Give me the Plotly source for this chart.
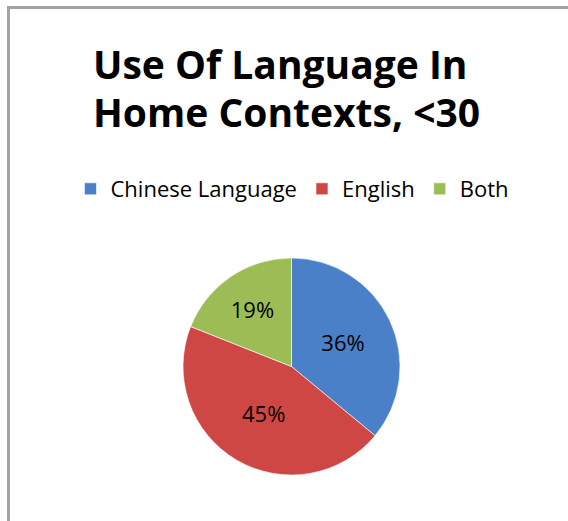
import plotly.graph_objects as go

# Language used at home, respondents under 30
categories = ["Chinese Language", "English", "Both"]
shares = [36, 45, 19]
colors = ["#4a80c8", "#cf4744", "#9cbd55"]
title_lines = ["Use Of Language In", "Home Contexts, <30"]

W, H = 568, 521

fig = go.Figure(
    go.Pie(
        labels=categories,
        values=shares,
        sort=False,
        direction="clockwise",
        rotation=0,
        textinfo="percent",
        textposition="inside",
        insidetextorientation="horizontal",
        textfont=dict(family="Open Sans", size=22, color="#000000"),
        marker=dict(colors=colors, line=dict(color="#ffffff", width=0.6)),
        domain=dict(x=[183 / W, 400 / W], y=[1 - 475 / H, 1 - 258 / H]),
        hoverinfo="label+percent",
    )
)

# title drawn as two left-aligned lines
title_annotations = [
    dict(
        text=line,
        x=91 / W,
        y=1 - yc / H,
        xref="paper",
        yref="paper",
        xanchor="left",
        yanchor="middle",
        showarrow=False,
        font=dict(family="Open Sans", size=39, color="#000000", weight="bold"),
    )
    for line, yc in zip(title_lines, [63, 112])
]

fig.update_layout(
    width=W,
    height=H,
    margin=dict(l=0, r=0, t=0, b=0),
    paper_bgcolor="#ffffff",
    plot_bgcolor="#ffffff",
    showlegend=True,
    legend=dict(
        orientation="h",
        x=292 / W,
        xanchor="center",
        y=1 - 189 / H,
        yanchor="middle",
        font=dict(family="Open Sans", size=22, color="#000000"),
        itemwidth=30,
        bgcolor="rgba(0,0,0,0)",
    ),
    annotations=title_annotations,
    shapes=[
        dict(type="line", xref="paper", yref="paper",
             x0=8.5 / W, x1=1, y0=1 - 7.5 / H, y1=1 - 7.5 / H,
             line=dict(color="#a3a3a3", width=3)),
        dict(type="line", xref="paper", yref="paper",
             x0=8.5 / W, x1=8.5 / W, y0=0, y1=1 - 6 / H,
             line=dict(color="#a3a3a3", width=3)),
    ],
)

fig.write_html("out.html")
